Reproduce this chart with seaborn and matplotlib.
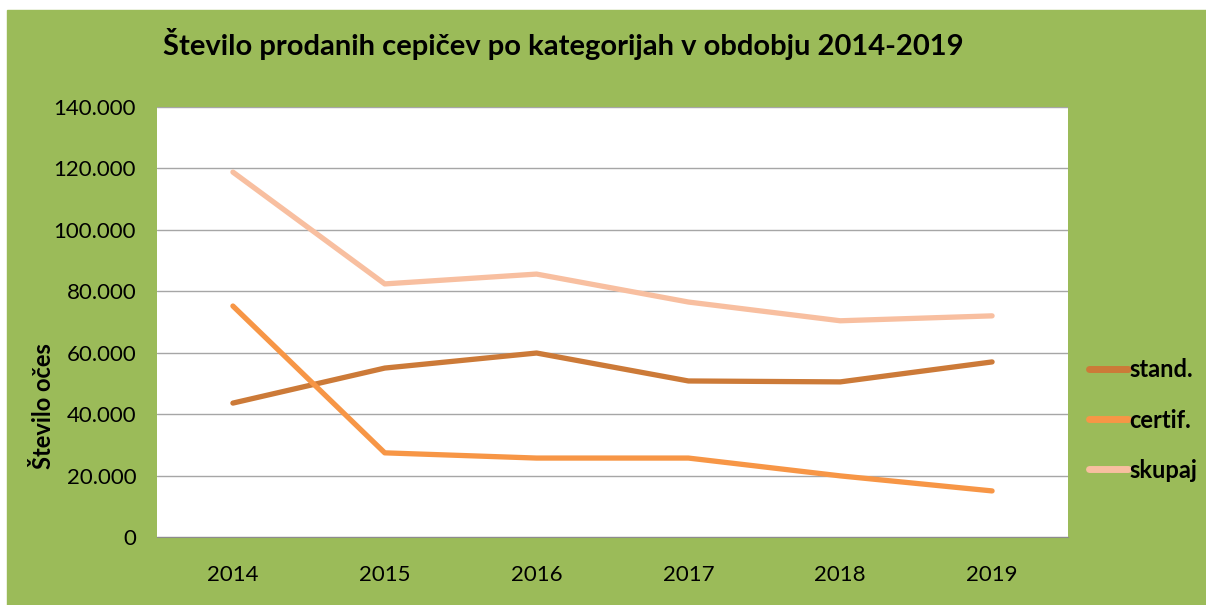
import matplotlib
matplotlib.use("Agg")
import matplotlib.pyplot as plt
import matplotlib.patches as patches
import pandas as pd
import seaborn as sns

years = ["2014", "2015", "2016", "2017", "2018", "2019"]
stand = [43600, 55000, 59900, 50800, 50500, 57000]
certif = [75200, 27400, 25700, 25700, 19900, 15000]
skupaj = [118800, 82400, 85600, 76500, 70400, 72000]
series_names = ["stand.", "certif.", "skupaj"]
colors = ["#CC7A38", "#F79646", "#F8BFA0"]

df = pd.DataFrame({"leto": years, "stand.": stand, "certif.": certif, "skupaj": skupaj})
long = df.melt(id_vars="leto", var_name="kategorija", value_name="st")

sns.set_style("white")
plt.rcParams["font.family"] = ["Lato", "DejaVu Sans"]
plt.rcParams["text.color"] = "black"
plt.rcParams["axes.labelcolor"] = "black"
plt.rcParams["xtick.labelcolor"] = "black"
plt.rcParams["ytick.labelcolor"] = "black"

fig = plt.figure(figsize=(12.06, 6.05), dpi=100)
fig.patch.set_facecolor("white")
# green chart area, white margin at top/left
fig.patches.append(patches.Rectangle((7 / 1206, 0), 1, 1 - 10 / 605,
                                     transform=fig.transFigure, color="#9BBB59", zorder=-10))

ax = fig.add_axes([157 / 1206, 68 / 605, 911 / 1206, 430 / 605])
ax.set_facecolor("white")
sns.lineplot(data=long, x="leto", y="st", hue="kategorija", hue_order=series_names,
             palette=colors, linewidth=3.8, ax=ax, sort=False)
ax.set_xlim(-0.5, 5.5)
ax.set_ylim(0, 140000)
ax.set_yticks(range(0, 140001, 20000))
ax.set_yticklabels(["0"] + [f"{v // 1000}.000" for v in range(20000, 140001, 20000)])
ax.yaxis.grid(True, color="#A6A6A6", linewidth=1)
ax.set_axisbelow(True)
for s in ["top", "right", "left"]:
    ax.spines[s].set_visible(False)
ax.spines["bottom"].set_color("#8C8C8C")
ax.tick_params(axis="y", length=0, labelsize=16, pad=15)
ax.tick_params(axis="x", direction="in", length=6, color="#8C8C8C", labelsize=16, pad=20)
ax.set_xlabel("")
ax.set_ylabel("Število očes", fontsize=17, fontweight="bold")
ax.yaxis.set_label_coords(-0.112, 0.305)

fig.text(163 / 1206, 1 - 44 / 605, "Število prodanih cepičev po kategorijah v obdobju 2014-2019",
         fontsize=21, fontweight="bold", va="center", ha="left")

leg = ax.legend(loc="center left", bbox_to_anchor=(1.0, 0.272), frameon=False,
                fontsize=17, handlelength=1.65, handletextpad=0.05, labelspacing=1.15)
for t in leg.get_texts():
    t.set_fontweight("bold")
for h in leg.get_lines():
    h.set_linewidth(5)
    h.set_solid_capstyle("round")

fig.savefig("out.png", dpi=100)
